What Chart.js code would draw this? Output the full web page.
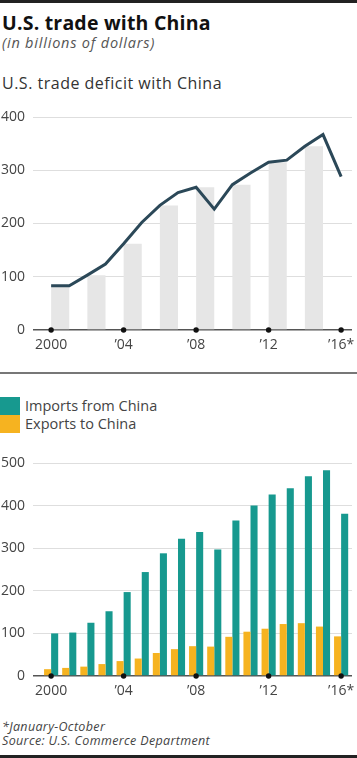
<!DOCTYPE html>
<html>
<head>
<meta charset="utf-8">
<script src="https://cdn.jsdelivr.net/npm/chart.js@4.4.1/dist/chart.umd.min.js"></script>
<style>
  html, body { margin: 0; padding: 0; background: #fff; }
  body { width: 357px; height: 758px; position: relative; overflow: hidden; font-family: "Open Sans", Lato, sans-serif; color: #222; }
  .bar-top { position: absolute; left: 0; top: 0; width: 357px; height: 3px; background: #222; }
  .bar-bot { position: absolute; left: 0; top: 755px; width: 357px; height: 3px; background: #222; }
  .sep { position: absolute; left: 0; top: 372px; width: 357px; height: 1.5px; background: #777; }
  .t { position: absolute; left: 2px; white-space: nowrap; line-height: 1; }
  #title { top: 13px; font-size: 19.5px; font-weight: 700; color: #111; letter-spacing: 0.2px; }
  #sub { top: 36px; font-size: 14.5px; font-style: italic; color: #555; letter-spacing: 0.8px; }
  #head1 { top: 75px; font-size: 16px; color: #333; letter-spacing: 0.5px; }
  #foot1 { top: 721px; font-size: 12.5px; font-style: italic; color: #444; letter-spacing: 0.35px; }
  #foot2 { top: 735px; font-size: 12.5px; font-style: italic; color: #444; letter-spacing: 0.35px; }
  .leg { position: absolute; left: 0; width: 20px; height: 18px; }
  .legt { position: absolute; left: 25px; font-size: 14.5px; color: #444; white-space: nowrap; line-height: 1; }
  canvas { position: absolute; left: 0; }
</style>
</head>
<body>
<div class="bar-top"></div>
<div class="t" id="title">U.S. trade with China</div>
<div class="t" id="sub">(in billions of dollars)</div>
<div class="t" id="head1">U.S. trade deficit with China</div>
<div style="position:absolute;left:0;top:104px;width:357px;height:254px;"><canvas id="c1" width="357" height="254"></canvas></div>
<div class="sep"></div>
<div class="leg" id="lg1" style="top:397px;"></div>
<div class="leg" id="lg2" style="top:415px;"></div>
<div class="legt" id="lt1" style="top:398.5px;">Imports from China</div>
<div class="legt" id="lt2" style="top:417px;">Exports to China</div>
<div style="position:absolute;left:0;top:450px;width:357px;height:254px;"><canvas id="c2" width="357" height="254"></canvas></div>
<div class="t" id="foot1">*January-October</div>
<div class="t" id="foot2">Source: U.S. Commerce Department</div>
<div class="bar-bot"></div>

<script>
// ---- DATA ----
const years = [2000, 2001, 2002, 2003, 2004, 2005, 2006, 2007, 2008, 2009, 2010, 2011, 2012, 2013, 2014, 2015, 2016];
const deficit = [83, 83, 103, 124, 162, 202, 234, 258, 268, 227, 273, 295, 315, 319, 345, 367, 288];
const imports = [100, 102, 125, 152, 197, 244, 288, 322, 338, 297, 365, 400, 426, 441, 469, 483, 381];
const exportsCN = [16, 19, 22, 28, 35, 41, 54, 63, 70, 69, 92, 104, 111, 122, 124, 116, 93];
const tickYears = [2000, 2004, 2008, 2012, 2016];
const tickLabels = ['2000', '\u201904', '\u201908', '\u201912', '\u201916*'];
const deficitTicks = [0, 100, 200, 300, 400];
const tradeTicks = [0, 100, 200, 300, 400, 500];
const seriesNames = ['Imports from China', 'Exports to China'];

// ---- STYLE ----
const C_LINE = '#2b4858';
const C_STRIPE = '#e6e6e6';
const C_TEAL = '#17998f';
const C_YELLOW = '#f6b320';
const C_GRID = '#dedede';
const C_AXIS = '#555';
const FONT = { family: '"Open Sans", Lato, sans-serif', size: 14 };

document.getElementById('lg1').style.background = C_TEAL;
document.getElementById('lg2').style.background = C_YELLOW;

function xScale() {
  return {
    type: 'linear', min: 1999, max: 2016.6, offset: false,
    grid: { display: false, offset: false, drawTicks: false },
    border: { display: false },
    afterBuildTicks: (axis) => { axis.ticks = tickYears.map(v => ({ value: v })); },
    afterFit: (s) => { s.height = 28; s.paddingLeft = 0; s.paddingRight = 0; },
    ticks: {
      autoSkip: false, maxRotation: 0, padding: 7, color: '#444', font: FONT,
      callback: (v) => { const i = tickYears.indexOf(v); return i >= 0 ? tickLabels[i] : ''; }
    }
  };
}
function yScale(max, ticksArr) {
  return {
    min: 0, max: max,
    afterBuildTicks: (axis) => { axis.ticks = ticksArr.map(v => ({ value: v })); },
    afterFit: (s) => { s.width = 33; s.paddingTop = 0; s.paddingBottom = 0; },
    border: { display: false },
    grid: {
      drawTicks: false,
      color: (ctx) => ctx.tick && ctx.tick.value === 0 ? C_AXIS : C_GRID,
      lineWidth: (ctx) => ctx.tick && ctx.tick.value === 0 ? 1.5 : 1
    },
    ticks: { padding: 8, color: '#444', font: FONT }
  };
}
const dotData = tickYears.map(y => ({ x: y, y: 0 }));
const dotDataset = {
  type: 'scatter', data: dotData, pointRadius: 2.7, pointBackgroundColor: '#111',
  pointBorderWidth: 0, clip: false, order: 0
};
const common = {
  responsive: false, animation: false,
  layout: { padding: { top: 13, right: 5, left: 0, bottom: 0 } },
  plugins: { legend: { display: false }, tooltip: { enabled: false } }
};

// ---- CHART 1 ----
const stripeData = years.map((y, i) => ({ x: y + 0.5, y: deficit[i] })).filter((d, i) => i % 2 === 0 && i < years.length - 1);
new Chart(document.getElementById('c1'), {
  type: 'bar',
  data: {
    datasets: [
      { type: 'bar', data: stripeData, backgroundColor: C_STRIPE, barPercentage: 1, categoryPercentage: 0.5, order: 3 },
      { type: 'line', data: years.map((y, i) => ({ x: y, y: deficit[i] })), borderColor: C_LINE, borderWidth: 3,
        pointRadius: 0, tension: 0, fill: false, order: 2, borderJoinStyle: 'miter' },
      dotDataset
    ]
  },
  options: Object.assign({}, common, { scales: { x: xScale(), y: yScale(400, deficitTicks) } })
});

// ---- CHART 2 ----
new Chart(document.getElementById('c2'), {
  type: 'bar',
  data: {
    datasets: [
      { type: 'bar', label: seriesNames[0], data: years.map((y, i) => ({ x: y, y: imports[i] })), backgroundColor: C_TEAL,
        barPercentage: 1, categoryPercentage: 0.78, order: 2 },
      { type: 'bar', label: seriesNames[1], data: years.map((y, i) => ({ x: y, y: exportsCN[i] })), backgroundColor: C_YELLOW,
        barPercentage: 1, categoryPercentage: 0.78, order: 1 },
      Object.assign({}, dotDataset, { data: dotData.slice() })
    ]
  },
  options: Object.assign({}, common, { scales: { x: xScale(), y: yScale(500, tradeTicks) } })
});
</script>
</body>
</html>
